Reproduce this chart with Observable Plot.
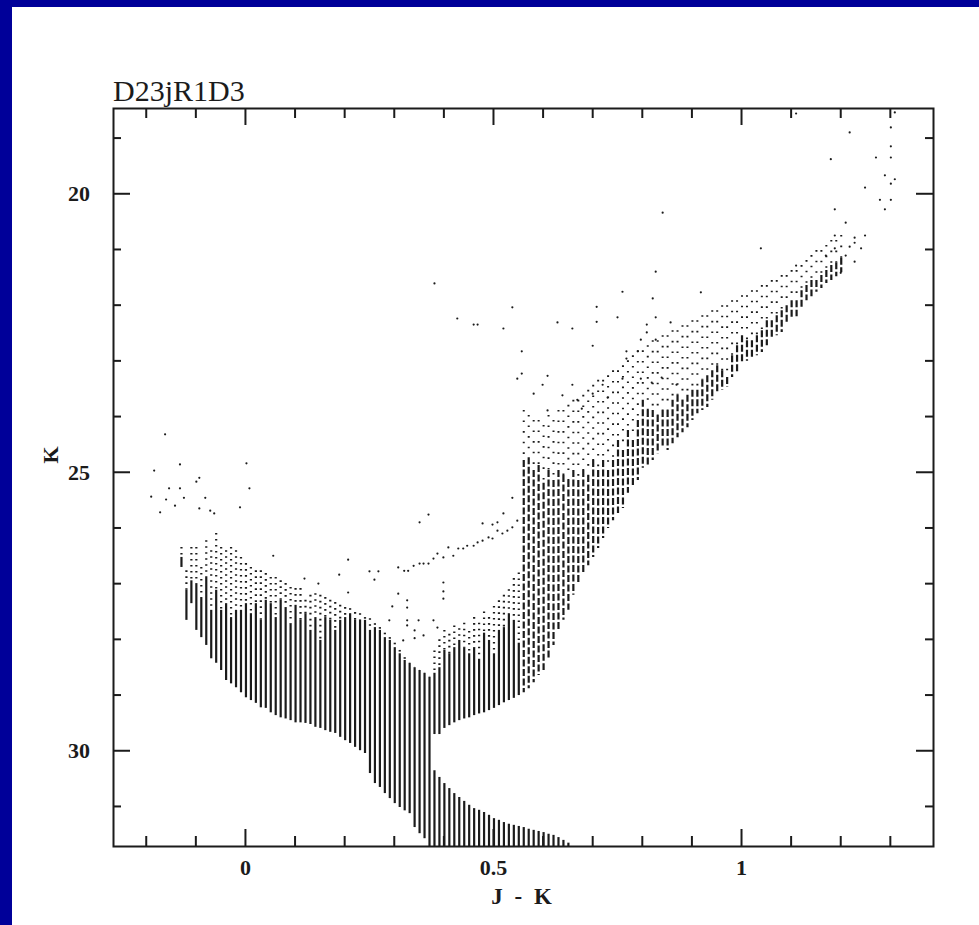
<!DOCTYPE html>
<html><head><meta charset="utf-8">
<script src="https://cdn.jsdelivr.net/npm/d3@7"></script>
<script src="https://cdn.jsdelivr.net/npm/@observablehq/plot@0.6"></script>
<style>
html,body{margin:0;padding:0;background:#000099;width:979px;height:925px;overflow:hidden;}
#paper{position:absolute;left:12px;top:7px;width:967px;height:918px;background:#fff;}
#chart{position:absolute;left:0;top:0;}
</style></head><body><div id="paper"></div><div id="chart"></div>
<script>
// ---------- texts ----------
const chartTitle = "D23jR1D3";
const xTitle = "J - K";
const yTitle = "K";
const xMajor = [0, 0.5, 1];
const xTickLabels = ["0", "0.5", "1"];
const xTicks = [-0.2, -0.1, 0, 0.1, 0.2, 0.3, 0.4, 0.5, 0.6, 0.7, 0.8, 0.9, 1, 1.1, 1.2, 1.3];
const yMajor = [20, 25, 30];
const yTickLabels = ["20", "25", "30"];
const yTicks = [19, 20, 21, 22, 23, 24, 25, 26, 27, 28, 29, 30, 31];
const xLimits = [-0.267, 1.386];
const kLimits = [18.46, 31.71];

// ---------- blue main sequence columns (J-K bins): sparse from top to solid, dense from solid to bottom ----------
const msJK = [-0.13,-0.12,-0.11,-0.10,-0.09,-0.08,-0.07,-0.06,-0.05,-0.04,-0.03,-0.02,-0.01,0.00,0.01,0.02,0.03,0.04,0.05,0.06,0.07,0.08,0.09,0.10,0.11,0.12,0.13,0.14,0.15,0.16,0.17,0.18,0.19,0.20,0.21,0.22,0.23,0.24,0.25,0.26,0.27,0.28,0.29,0.30,0.31,0.32,0.33,0.34,0.35,0.36,0.37];
const msTop = [26.34,26.76,26.34,26.34,26.70,26.22,26.40,26.09,26.34,26.40,26.34,26.40,26.52,26.63,26.70,26.76,26.76,26.81,26.88,26.88,26.94,26.99,27.06,27.08,27.08,27.29,27.20,27.17,27.20,27.24,27.29,27.33,27.38,27.42,27.44,27.51,27.53,27.60,27.62,27.71,27.78,27.88,27.96,28.06,28.19,28.32,28.42,28.50,28.55,28.60,28.67];
const msSolid = [26.52,27.11,26.94,26.99,27.24,26.88,27.47,27.11,27.47,27.35,27.60,27.47,27.47,27.35,27.53,27.35,27.65,27.29,27.35,27.60,27.29,27.42,27.71,27.38,27.65,27.53,27.83,27.60,28.01,27.60,27.65,27.83,27.65,27.60,27.53,27.65,27.65,27.65,27.83,27.78,27.83,27.96,28.01,28.14,28.25,28.37,28.42,28.50,28.55,28.60,28.67];
const msBottom = [26.70,27.65,27.35,27.83,27.96,28.10,28.34,28.42,28.55,28.73,28.79,28.86,28.95,29.04,29.09,29.14,29.22,29.23,29.31,29.36,29.40,29.42,29.45,29.49,29.49,29.50,29.52,29.57,29.59,29.63,29.66,29.68,29.75,29.81,29.86,29.93,29.99,30.04,30.40,30.58,30.65,30.76,30.85,30.94,31.01,31.07,31.12,31.37,31.48,31.57,31.71];

// ---------- red subgiant group ----------
const sgJK = [0.38,0.39,0.40,0.41,0.42,0.43,0.44,0.45,0.46,0.47,0.48,0.49,0.50,0.51,0.52,0.53,0.54,0.55];
const sgTop = [28.20,28.00,27.83,27.90,27.75,27.80,27.70,27.85,27.60,27.70,27.50,27.60,27.40,27.30,27.20,27.10,26.90,26.80];
const sgSolid = [28.60,28.50,28.19,28.25,28.14,28.01,28.14,28.25,28.14,28.37,27.88,28.01,28.25,27.83,27.78,27.53,27.65,28.06];
const sgBottom = [29.70,29.70,29.59,29.54,29.49,29.45,29.42,29.40,29.36,29.33,29.31,29.27,29.23,29.18,29.13,29.09,29.05,29.00];

// ---------- red giant branch ----------
const rgbJK = [0.56,0.57,0.58,0.59,0.60,0.61,0.62,0.63,0.64,0.65,0.66,0.67,0.68,0.69,0.70,0.71,0.72,0.73,0.74,0.75,0.76,0.77,0.78,0.79,0.80,0.81,0.82,0.83,0.84,0.85,0.86,0.87,0.88,0.89,0.90,0.91,0.92,0.93,0.94,0.95,0.96,0.97,0.98,0.99,1.00,1.01,1.02,1.03,1.04,1.05,1.06,1.07,1.08,1.09,1.10,1.11,1.12,1.13,1.14,1.15,1.16,1.17,1.18,1.19,1.20];
const rgbTop = [23.88,23.97,24.06,24.06,24.15, 23.97,24.06,23.88,23.88,23.79, 23.70,23.70,23.61,23.52,23.43, 23.34,23.34,23.26,23.17,23.17, 23.08,22.99,22.90,22.81,22.81, 22.72,22.63,22.63,22.54,22.54, 22.45,22.45,22.36,22.36,22.27, 22.27,22.18,22.18,22.09,22.09, 22.00,22.00,21.91,21.91,21.82, 21.82,21.73,21.73,21.64,21.64, 21.55,21.55,21.46,21.46,21.37, 21.37,21.28,21.19,21.10,21.01, 21.01,20.92,20.83,20.83,20.74];
const rgbSolid = [24.78,24.73,24.96,24.87,25.19, 24.96,25.14,24.96,25.05,25.14, 24.96,25.14,24.96,25.05,24.78, 24.96,24.78,24.96,24.78,24.42, 24.60,24.24,24.42,24.06,23.70, 23.88,23.88,23.97,23.88,23.88, 23.70,23.61,23.70,23.61,23.52, 23.52,23.34,23.26,23.17,23.08, 23.17,23.29,22.90,22.72,22.54, 22.63,22.63,22.54,22.45,22.27, 22.27,22.18,22.09,22.00,21.91, 21.91,21.73,21.64,21.55,21.55, 21.46,21.37,21.28,21.23,21.15];
const rgbBottom = [28.95,28.88,28.77,28.64,28.55, 28.37,28.10,27.83,27.65,27.47, 27.20,26.99,26.79,26.67,26.52, 26.36,26.18,26.00,25.86,25.73, 25.64,25.37,25.27,25.14,24.92, 24.89,24.78,24.66,24.55,24.60, 24.48,24.37,24.28,24.19,24.06, 23.94,23.88,23.83,23.70,23.58, 23.52,23.47,23.29,23.20,23.04, 23.00,22.97,22.90,22.84,22.72, 22.59,22.54,22.48,22.32,22.23, 22.20,22.05,21.91,21.84,21.76, 21.69,21.60,21.55,21.48,21.41];

// ---------- faint lower main sequence (runs to the plot limit) ----------
const lmsJK = [0.38,0.39,0.40,0.41,0.42,0.43,0.44,0.45,0.46,0.47,0.48,0.49,0.50,0.51,0.52,0.53,0.54,0.55,0.56,0.57,0.58,0.59,0.60,0.61,0.62,0.63,0.64,0.65];
const lmsTop = [30.35,30.47,30.58,30.67,30.76,30.83,30.90,30.97,31.03,31.06,31.10,31.15,31.21,31.24,31.28,31.31,31.33,31.35,31.37,31.40,31.42,31.44,31.46,31.49,31.51,31.55,31.60,31.65];

// ---------- isolated stars ----------
const starJK = [
  -0.163,-0.185,-0.133,-0.191,-0.155,-0.133,-0.161,-0.125,-0.100,-0.094,-0.082,0.007,-0.012,-0.173,-0.143,-0.094,-0.072,-0.064,0.001,0.055,
  0.118,0.146,0.188,0.206,0.206,0.249,0.267,0.259,0.307,0.295,0.325,0.325,0.398,0.398,0.398,0.289,0.325,0.348,0.325,0.378,0.386,0.340,0.358,0.317,0.340,
  0.307,0.319,0.327,0.338,0.350,0.358,0.368,0.378,0.386,0.398,0.408,0.418,0.428,0.438,0.446,0.459,0.467,0.477,0.489,0.497,0.507,0.517,0.527,0.537,0.547,0.368,0.350,0.519,0.507,0.477,0.497,0.537,
  0.380,0.426,0.459,0.467,0.519,0.537,0.628,0.658,0.707,0.707,0.749,0.699,0.808,0.808,0.826,0.856,0.796,0.826,0.767,0.790,0.767,0.556,0.556,0.547,0.608,0.580,0.598,0.658,0.719,0.759,0.796,0.818,0.838,0.868,0.638,0.668,0.699,0.729,0.677,0.608,
  0.840,0.826,1.038,1.109,0.759,0.820,0.917,1.109,1.308,1.217,1.300,1.179,1.270,1.300,1.300,1.288,1.308,1.300,1.248,1.278,1.300,1.288,1.187,1.209,1.187,1.227,1.227,1.248,1.217,1.240,1.187,1.169,1.209,1.227,1.199
];
const starK = [
  24.31,24.96,24.85,25.43,25.28,25.28,25.48,25.45,25.16,25.09,25.45,25.28,25.62,25.71,25.59,25.64,25.68,25.73,24.83,26.49,
  26.90,26.99,26.83,26.56,27.15,26.77,26.77,26.92,27.17,27.40,27.29,27.42,26.97,27.13,27.26,27.65,27.65,27.65,27.74,27.65,27.78,27.83,27.92,28.01,27.97,
  26.70,26.76,26.76,26.67,26.63,26.63,26.63,26.54,26.45,26.52,26.34,26.49,26.36,26.36,26.31,26.31,26.25,26.22,26.16,26.18,26.04,26.09,26.04,25.98,25.86,25.75,25.89,25.73,25.89,25.91,25.93,25.45,
  21.60,22.23,22.34,22.34,22.41,22.03,22.30,22.41,22.02,22.29,22.21,22.72,22.34,22.48,22.21,22.30,22.61,22.61,22.82,22.82,22.95,22.82,23.22,23.31,23.26,23.58,23.42,23.42,23.42,23.31,23.31,23.38,23.29,23.42,23.61,23.69,23.58,23.65,23.85,23.88,
  20.33,21.39,20.97,21.28,21.75,21.87,21.76,18.55,18.53,18.89,18.80,19.37,19.34,19.14,19.34,19.66,19.73,19.81,19.88,20.10,20.10,20.27,20.27,20.51,20.74,20.78,20.87,20.74,20.94,20.97,20.97,21.10,21.10,21.21,21.41
];

// ---------- build tables ----------
const cols = (jk, top, solid, bottom) => jk.map((c, i) => ({c, top: top[i], solid: solid[i], bottom: bottom[i]}));
const ms = cols(msJK, msTop, msSolid, msBottom);
const sg = cols(sgJK, sgTop, sgSolid, sgBottom);
const rgb = cols(rgbJK, rgbTop, rgbSolid, rgbBottom);
const lms = lmsJK.map((c, i) => ({c, top: lmsTop[i], bottom: kLimits[1]}));
const stars = starJK.map((c, i) => ({c, k: starK[i]}));

const ink = "#1b1b1b";
const serif = "'Liberation Serif', 'DejaVu Serif', serif";

function frameDecor(index, scales, values, dimensions) {
  const {x, y} = scales;
  const W = dimensions.width, H = dimensions.height;
  const L = dimensions.marginLeft, R = W - dimensions.marginRight;
  const T = dimensions.marginTop, B = H - dimensions.marginBottom;
  const g = d3.create("svg:g");
  const tk = g.append("g").attr("stroke", ink).attr("stroke-width", 2).attr("fill", "none");
  for (const v of xTicks) {
    const px = x(v), len = xMajor.includes(v) ? 17 : 10;
    tk.append("line").attr("x1", px).attr("x2", px).attr("y1", B).attr("y2", B - len);
    tk.append("line").attr("x1", px).attr("x2", px).attr("y1", T).attr("y2", T + len);
  }
  for (const v of yTicks) {
    const py = y(v), len = yMajor.includes(v) ? 17 : 8;
    tk.append("line").attr("x1", L).attr("x2", L + len).attr("y1", py).attr("y2", py);
    tk.append("line").attr("x1", R).attr("x2", R - len).attr("y1", py).attr("y2", py);
  }
  const tx = g.append("g").attr("fill", ink).attr("font-family", serif);
  xMajor.forEach((v, i) => tx.append("text").attr("x", x(v)).attr("y", B + 29)
    .attr("text-anchor", "middle").attr("font-size", 22).attr("font-weight", "bold").text(xTickLabels[i]));
  yMajor.forEach((v, i) => tx.append("text").attr("x", L - 23).attr("y", y(v)).attr("dy", "0.35em")
    .attr("text-anchor", "end").attr("font-size", 22).attr("font-weight", "bold").text(yTickLabels[i]));
  tx.append("text").attr("x", (L + R) / 2).attr("y", B + 58).attr("text-anchor", "middle")
    .attr("font-size", 23).attr("font-weight", "bold").attr("letter-spacing", "3px")
    .style("white-space", "pre").text(xTitle);
  tx.append("text").attr("transform", `translate(${L - 63},${T + 347}) rotate(-90)`)
    .attr("text-anchor", "middle").attr("dy", "0.35em").attr("font-size", 22).attr("font-weight", "bold").text(yTitle);
  tx.append("text").attr("x", L).attr("y", T - 7).attr("text-anchor", "start")
    .attr("font-size", 30).text(chartTitle);
  return g.node();
}

const plot = Plot.plot({
  width: 979, height: 925,
  marginLeft: 113, marginRight: 46, marginTop: 108, marginBottom: 79,
  style: {background: "transparent", overflow: "visible"},
  x: {domain: xLimits, axis: null},
  y: {domain: kLimits, reverse: true, axis: null},
  marks: [
    Plot.ruleX(ms, {x: "c", y1: "top", y2: "solid", stroke: ink, strokeWidth: 2.2, strokeDasharray: "1.6,4.4"}),
    Plot.ruleX(ms, {x: "c", y1: "solid", y2: "bottom", stroke: ink, strokeWidth: 2.2}),
    Plot.ruleX(sg, {x: "c", y1: "top", y2: "solid", stroke: ink, strokeWidth: 2.2, strokeDasharray: "1.6,4.4"}),
    Plot.ruleX(sg, {x: "c", y1: "solid", y2: "bottom", stroke: ink, strokeWidth: 2.2}),
    Plot.ruleX(rgb, {x: "c", y1: "top", y2: "solid", stroke: ink, strokeWidth: 2, strokeDasharray: "1.6,9"}),
    Plot.ruleX(rgb, {x: "c", y1: "solid", y2: "bottom", stroke: ink, strokeWidth: 2.2, strokeDasharray: "7,2.5"}),
    Plot.ruleX(lms, {x: "c", y1: "top", y2: "bottom", stroke: ink, strokeWidth: 2.2}),
    Plot.dot(stars, {x: "c", y: "k", r: 1.1, fill: ink}),
    Plot.frame({stroke: ink, strokeWidth: 2}),
    frameDecor
  ]
});
document.getElementById("chart").appendChild(plot);
</script></body></html>
